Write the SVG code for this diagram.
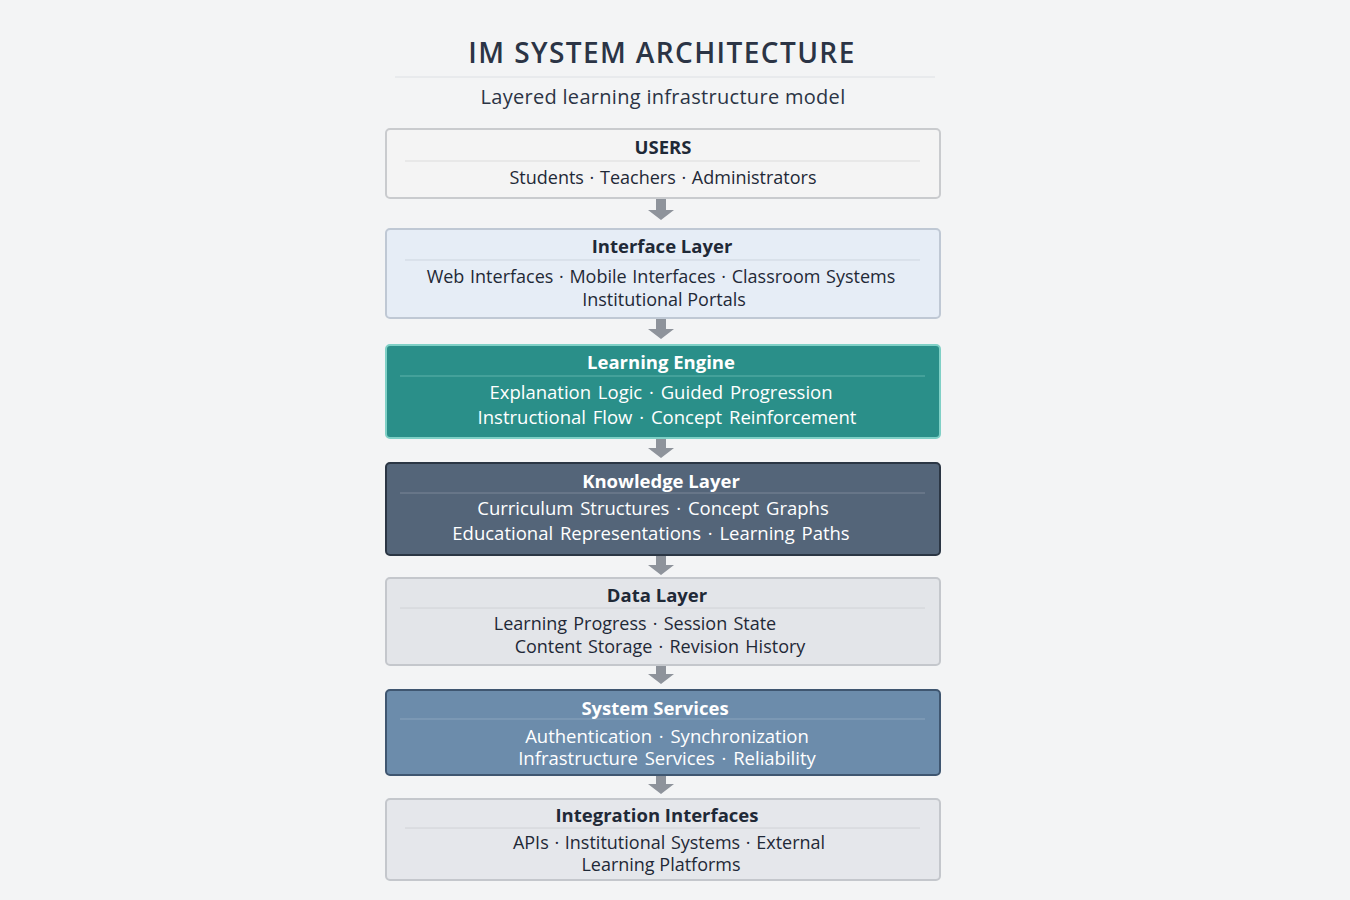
<svg xmlns="http://www.w3.org/2000/svg" width="1350" height="900" viewBox="0 0 1350 900">
<style>
text{font-family:"Open Sans","Noto Sans","DejaVu Sans",sans-serif;text-anchor:middle}
.h{font-size:18.5px;font-weight:700}
.b{font-size:18px}
.b19{font-size:18.5px}
.dk{fill:#1f2937}
.lt{fill:#ffffff}
.box{stroke-width:2}
.sep{stroke-width:1}
</style>
<rect width="1350" height="900" fill="#f3f4f5"/>
<text x="662" y="63" style="font-size:28px;font-weight:600;fill:#2b3445;letter-spacing:1.4px">IM SYSTEM ARCHITECTURE</text>
<line x1="395" y1="77" x2="935" y2="77" stroke="#dde0e4"/>
<text x="663" y="104" style="font-size:20px;fill:#2b3445;letter-spacing:0.3px">Layered learning infrastructure model</text>
<g id="connectors" fill="#8e939b">
<path d="M656 199h10v11h8l-13 10-13-10h8z"/>
<path d="M656 319h10v10h8l-13 10-13-10h8z"/>
<path d="M656 439h10v9h8l-13 10-13-10h8z"/>
<path d="M656 556h10v9h8l-13 10-13-10h8z"/>
<path d="M656 666h10v8h8l-13 10-13-10h8z"/>
<path d="M656 776h10v8h8l-13 10-13-10h8z"/>
</g>
<g id="users">
<rect class="box" x="386" y="129" width="554" height="69" rx="4" fill="#f4f4f4" stroke="#c9cbce"/>
<line class="sep" x1="405" y1="161" x2="920" y2="161" stroke="#dcdcdc"/>
<text class="h dk" x="663" y="154">USERS</text>
<text class="b dk" x="663" y="184" style="word-spacing:1px">Students · Teachers · Administrators</text>
</g>
<g id="interface">
<rect class="box" x="386" y="229" width="554" height="89" rx="4" fill="#e6edf6" stroke="#bfc8d4"/>
<line class="sep" x1="405" y1="260" x2="920" y2="260" stroke="#cdd5df"/>
<text class="h dk" x="662" y="253">Interface Layer</text>
<text class="b dk" x="661" y="283" style="word-spacing:1px">Web Interfaces · Mobile Interfaces · Classroom Systems</text>
<text class="b dk" x="664" y="306">Institutional Portals</text>
</g>
<g id="engine">
<rect class="box" x="386" y="345" width="554" height="93" rx="4" fill="#2a8f89" stroke="#7fd0c6"/>
<line class="sep" x1="400" y1="376" x2="925" y2="376" stroke="#5fb3ab"/>
<text class="h lt" x="661" y="369">Learning Engine</text>
<text class="b19 lt" x="661" y="399" style="word-spacing:2px">Explanation Logic · Guided Progression</text>
<text class="b19 lt" x="667" y="424" style="word-spacing:2px">Instructional Flow · Concept Reinforcement</text>
</g>
<g id="knowledge">
<rect class="box" x="386" y="463" width="554" height="92" rx="4" fill="#546579" stroke="#2b3644"/>
<line class="sep" x1="400" y1="493" x2="925" y2="493" stroke="#7a8798"/>
<text class="h lt" x="661" y="488">Knowledge Layer</text>
<text class="b19 lt" x="653" y="515" style="word-spacing:2px">Curriculum Structures · Concept Graphs</text>
<text class="b19 lt" x="651" y="540" style="word-spacing:2px">Educational Representations · Learning Paths</text>
</g>
<g id="data">
<rect class="box" x="386" y="578" width="554" height="87" rx="4" fill="#e3e5e9" stroke="#c4c7cc"/>
<line class="sep" x1="400" y1="608" x2="925" y2="608" stroke="#d0d2d6"/>
<text class="h dk" x="657" y="602">Data Layer</text>
<text class="b dk" x="635" y="630" style="word-spacing:1.5px">Learning Progress · Session State</text>
<text class="b dk" x="660" y="653" style="word-spacing:1.5px">Content Storage · Revision History</text>
</g>
<g id="services">
<rect class="box" x="386" y="690" width="554" height="85" rx="4" fill="#6c8cab" stroke="#3f5670"/>
<line class="sep" x1="400" y1="719" x2="925" y2="719" stroke="#8aa4bd"/>
<text class="h lt" x="655" y="715">System Services</text>
<text class="b19 lt" x="667" y="743" style="word-spacing:2px">Authentication · Synchronization</text>
<text class="b19 lt" x="667" y="765" style="word-spacing:2px">Infrastructure Services · Reliability</text>
</g>
<g id="integration">
<rect class="box" x="386" y="799" width="554" height="81" rx="4" fill="#e5e7eb" stroke="#c4c7cc"/>
<line class="sep" x1="405" y1="828" x2="920" y2="828" stroke="#d0d2d6"/>
<text class="h dk" x="657" y="822">Integration Interfaces</text>
<text class="b dk" x="669" y="849" style="word-spacing:1px">APIs · Institutional Systems · External</text>
<text class="b dk" x="661" y="871">Learning Platforms</text>
</g>
</svg>
